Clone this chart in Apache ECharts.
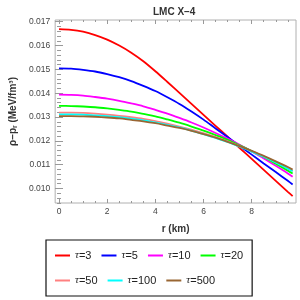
<!DOCTYPE html>
<html>
<head>
<meta charset="utf-8">
<script src="https://cdn.jsdelivr.net/npm/echarts@6/dist/echarts.min.js"></script>
<style>html,body{margin:0;padding:0;background:#fff}#c{width:300px;height:300px}</style>
</head>
<body>
<div id="c"></div>
<script>
const radius = [0,0.5,1,1.5,2,2.5,3,3.5,4,4.5,5,5.5,6,6.5,7,7.5,8,8.5,9,9.5,9.7];
const tau3   = [0.01669,0.01666,0.01658,0.01644,0.01625,0.01600,0.01570,0.01534,0.01492,0.01447,0.01401,0.01355,0.01309,0.01263,0.01217,0.01170,0.01124,0.01078,0.01032,0.00986,0.00968];
const tau5   = [0.01504,0.01503,0.01498,0.01491,0.01480,0.01467,0.01451,0.01431,0.01409,0.01383,0.01355,0.01323,0.01289,0.01252,0.01216,0.01179,0.01142,0.01105,0.01069,0.01032,0.01017];
const tau10  = [0.01394,0.01393,0.01390,0.01384,0.01377,0.01368,0.01357,0.01345,0.01330,0.01314,0.01296,0.01277,0.01256,0.01233,0.01209,0.01183,0.01155,0.01126,0.01095,0.01063,0.01049];
const tau20  = [0.01347,0.01346,0.01344,0.01341,0.01336,0.01330,0.01323,0.01313,0.01303,0.01290,0.01276,0.01260,0.01243,0.01224,0.01204,0.01181,0.01157,0.01132,0.01104,0.01075,0.01063];
const tau50  = [0.01318,0.01318,0.01317,0.01314,0.01310,0.01305,0.01299,0.01292,0.01283,0.01272,0.01260,0.01247,0.01232,0.01216,0.01198,0.01178,0.01157,0.01134,0.01110,0.01084,0.01073];
const tau100 = [0.01311,0.01311,0.01310,0.01307,0.01304,0.01299,0.01293,0.01286,0.01277,0.01267,0.01256,0.01243,0.01228,0.01212,0.01195,0.01175,0.01155,0.01133,0.01109,0.01083,0.01072];
const tau500 = [0.01304,0.01304,0.01303,0.01301,0.01298,0.01294,0.01288,0.01282,0.01274,0.01264,0.01254,0.01242,0.01228,0.01213,0.01196,0.01178,0.01158,0.01137,0.01114,0.01090,0.01079];
const seriesNames = ['τ=3','τ=5','τ=10','τ=20','τ=50','τ=100','τ=500'];
const xTicks = [0,2,4,6,8];
const yTicks = [0.010,0.011,0.012,0.013,0.014,0.015,0.016,0.017];

const seriesValues = [tau3,tau5,tau10,tau20,tau50,tau100,tau500];
const colors = ['#ff0000','#0000ff','#ff00ff','#00ff00','#ff8080','#00ffff','#996633'];

const xMinor = []; for (let i = 0; i <= 19; i++) xMinor.push(i*0.5);
const yMinor = []; for (let i = 47; i <= 85; i++) yMinor.push(+(i*0.0002).toFixed(4));

const XMIN = -0.16, XMAX = 9.84, YMIN = 0.00939, YMAX = 0.017072;
const tickColor = '#999';

function xAx(pos, vals, len, labels, extra) {
  return Object.assign({
    type:'value', position:pos, min:XMIN, max:XMAX,
    axisLine:{show:false},
    splitLine:{show:false},
    axisTick:{show:true, inside:true, length:len, customValues:vals, lineStyle:{color:tickColor, width:1}},
    axisLabel: labels ? {show:true, customValues:xTicks, margin:4, fontSize:8.5, color:'#444', fontFamily:'Liberation Sans'} : {show:false}
  }, extra || {});
}
function yAx(pos, vals, len, labels, extra) {
  return Object.assign({
    type:'value', position:pos, min:YMIN, max:YMAX,
    axisLine:{show:false},
    splitLine:{show:false},
    axisTick:{show:true, inside:true, length:len, customValues:vals, lineStyle:{color:tickColor, width:1}},
    axisLabel: labels ? {show:true, customValues:yTicks, margin:5, fontSize:8.5, color:'#444', fontFamily:'Liberation Sans', formatter:v=>v.toFixed(3)} : {show:false}
  }, extra || {});
}

const chart = echarts.init(document.getElementById('c'), null, {renderer:'canvas'});
chart.setOption({
  animation:false,
  backgroundColor:'#fff',
  title:{text:'LMC X–4', left:148, top:2, textStyle:{fontSize:10, fontWeight:'bold', color:'#333', fontFamily:'Liberation Sans'}},
  grid:{left:41, right:4, top:20, bottom:97, show:true, borderColor:'#b0b0b0', borderWidth:1, backgroundColor:'transparent'},
  xAxis:[
    xAx('bottom', xTicks, 4, true, {name:'r (km)', nameLocation:'middle', nameGap:21, nameTextStyle:{fontSize:10, fontWeight:'bold', color:'#333', fontFamily:'Liberation Sans'}}),
    xAx('bottom', xMinor, 2, false),
    xAx('top', xTicks, 4, false),
    xAx('top', xMinor, 2, false)
  ],
  yAxis:[
    yAx('left', yTicks, 4, true, {name:'ρ−pᵣ (MeV/fm³)', nameLocation:'middle', nameGap:33, nameRotate:90, nameTextStyle:{fontSize:10, fontWeight:'bold', color:'#333', fontFamily:'Liberation Sans'}}),
    yAx('left', yMinor, 2, false),
    yAx('right', yTicks, 4, false),
    yAx('right', yMinor, 2, false)
  ],
  legend:{
    data:seriesNames, left:46, top:240, width:200,
    padding:[8,9,8,9], borderColor:'#111', borderWidth:1.2,
    icon:'rect', itemWidth:15, itemHeight:2, itemGap:10,
    formatter: n => '{i|τ}' + n.slice(1),
    textStyle:{fontSize:11, color:'#222', lineHeight:15, fontFamily:'Liberation Sans',
      rich:{i:{fontStyle:'italic', fontSize:11, fontFamily:'Liberation Serif', lineHeight:15}}}
  },
  series: seriesNames.map((n,i)=>({
    name:n, type:'line', xAxisIndex:0, yAxisIndex:0,
    data: radius.map((r,j)=>[r, seriesValues[i][j]]),
    smooth:0.3, showSymbol:false, symbol:'none',
    lineStyle:{color:colors[i], width:1.8},
    itemStyle:{color:colors[i]}
  }))
});
</script>
</body>
</html>
